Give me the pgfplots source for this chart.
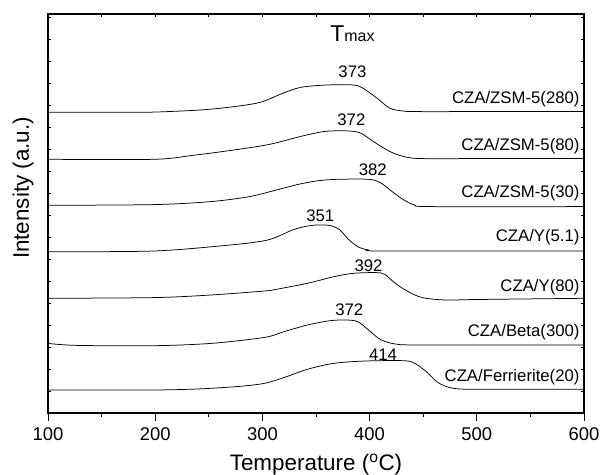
\documentclass[border=0pt]{standalone}
\usepackage{pgfplots}
\pgfplotsset{compat=1.18}
\usepackage{fontspec}
\setmainfont{Liberation Sans}
\begin{document}
\begin{tikzpicture}
\useasboundingbox (-48bp,-62bp) rectangle (555bp,413bp);
\begin{axis}[
  at={(0,0)}, anchor=south west,
  width=536bp, height=399bp, scale only axis,
  xmin=100, xmax=600, ymin=0, ymax=399,
  xtick={100,200,...,600}, minor x tick num=1,
  xtick pos=left, ytick=\empty,
  tick align=outside,
  major tick length=7.5bp, minor tick length=3.5bp,
  axis line style={line width=1.1bp},
  every tick/.style={black, line width=1bp},
  /pgf/number format/assume math mode=true,
  ticklabel style={font=\fontsize{18.5}{20}\selectfont},
  xticklabel style={yshift=-4bp},
  xlabel={Temperature (\textsuperscript{o}C)},
  xlabel style={font=\fontsize{22.5}{25}\selectfont, at={(axis description cs:0.5,0)}, anchor=base, yshift=-57bp},
  ylabel={Intensity (a.u.)},
  ylabel style={font=\fontsize{22.5}{25}\selectfont, at={(axis description cs:-0.0466,0.564)}, anchor=center},
  cycle list={{black, solid}},
  every axis plot/.append style={line width=0.75bp, smooth, no marks},
]
% CZA/ZSM-5(280)
\addplot coordinates {(100,300.7) (150,300.7) (195,300.8) (242,303) (273,306.3) (298,310.7) (319,319.7) (336,325.7) (360,328) (385,328) (394,324.7) (407,314.7) (419,304.7) (431,302) (443,301.4) (500,301.4) (600,301.5)};
% CZA/ZSM-5(80)
\addplot coordinates {(100,253.7) (199,253.7) (234,257.5) (270,262.5) (306,268.5) (335,276.4) (353,280.7) (363,282) (381,282) (392,279.7) (406,269.7) (421,260.4) (435,255.7) (449,254.4) (500,254.4) (600,254.4)};
% CZA/ZSM-5(30)
\addplot coordinates {(100,207.7) (199,208.4) (252,211.4) (288,216.4) (313,223) (335,229) (353,232.4) (371,233.7) (399,233.7) (410,230.4) (421,221.4) (432,213) (442,208) (457,206.4) (600,206.4)};
% CZA/Y(5.1)
\addplot coordinates {(100,161.3) (199,162) (270,168) (302,172.3) (315,176.8) (328,183) (340,186.5) (351,188) (363,187.5) (372,183.3) (380,174) (389,166.3) (399,163) (414,162) (600,162)};
% CZA/Y(80)
\addplot coordinates {(100,114.7) (199,115.4) (252,118) (302,122) (313,123.7) (342,129.7) (367,136.4) (385,139.7) (406,140.4) (414,138.7) (424,129.7) (435,122) (449,115.4) (471,113) (500,113.5) (600,114.7)};
% CZA/Beta(300)
\addplot coordinates {(100,69.6) (127,67.6) (199,67.3) (252,69.6) (302,75.6) (320,81.3) (342,88) (363,92.3) (378,93) (389,91.3) (399,83) (410,73.6) (424,69) (449,68) (600,68)};
% CZA/Ferrierite(20)
\addplot coordinates {(100,23) (199,23) (252,24.7) (302,29.7) (342,43.7) (367,49.7) (396,52) (432,52.3) (442,49.7) (453,41.3) (464,30.3) (478,24.7) (503,23.7) (600,23.7)};

\begin{scope}[every node/.style={font=\fontsize{16.8}{18}\selectfont, inner sep=0pt}]
\node[anchor=east] at (axis cs:596,313.7) {CZA/ZSM-5(280)};
\node[anchor=east] at (axis cs:596,267) {CZA/ZSM-5(80)};
\node[anchor=east] at (axis cs:596,220.3) {CZA/ZSM-5(30)};
\node[anchor=east] at (axis cs:596,175.7) {CZA/Y(5.1)};
\node[anchor=east] at (axis cs:596,126.3) {CZA/Y(80)};
\node[anchor=east] at (axis cs:596,81.3) {CZA/Beta(300)};
\node[anchor=east] at (axis cs:596,36.3) {CZA/Ferrierite(20)};
\node at (axis cs:384,341.3) {373};
\node at (axis cs:383,293) {372};
\node at (axis cs:403,243.7) {382};
\node at (axis cs:354,197) {351};
\node at (axis cs:399,147) {392};
\node at (axis cs:381,103) {372};
\node at (axis cs:412.5,58) {414};
\end{scope}
\node[anchor=base, inner sep=0pt, font=\fontsize{23}{25}\selectfont] at (axis cs:384,371.5) {T{\fontsize{16}{17}\selectfont max}};
\end{axis}
\begin{axis}[
  at={(0,0)}, anchor=south west,
  width=536bp, height=399bp, scale only axis,
  xmin=100, xmax=600, ymin=0, ymax=399,
  xtick={100,150,...,600}, ytick={0,22,...,399},
  xtick pos=right, ytick pos=both,
  tick align=inside, major tick length=3bp,
  xticklabels={}, yticklabels={},
  axis line style={line width=1.1bp},
  every tick/.style={black, line width=0.8bp},
]
\end{axis}
\end{tikzpicture}
\end{document}
